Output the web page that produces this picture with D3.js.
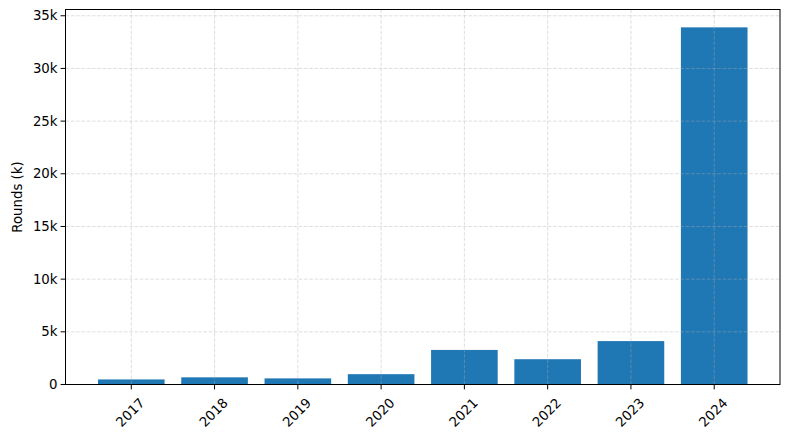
<!DOCTYPE html>
<html><head><meta charset="utf-8">
<script src="https://cdn.jsdelivr.net/npm/d3@7"></script>
<style>body{margin:0;background:#fff}svg{display:block}text{font-family:"DejaVu Sans",sans-serif;fill:#000}</style>
</head><body><svg id="c" width="790" height="439"></svg>
<script>
const years = ["2017","2018","2019","2020","2021","2022","2023","2024"];
const rounds = [480, 680, 580, 980, 3280, 2400, 4120, 33900];
const yTicks = [0, 5000, 10000, 15000, 20000, 25000, 30000, 35000];
const yTickLabels = ["0","5k","10k","15k","20k","25k","30k","35k"];

const svg = d3.select("#c");
const L = 65.5, R = 780, T = 9.5, B = 384.5;
const n = years.length;
const x = d3.scaleLinear().domain([-0.39 - 0.4, n - 1 + 0.4 + 0.39]).range([L, R]);
const yMax = d3.max(rounds) * 1.05;
const y = d3.scaleLinear().domain([0, yMax]).range([B, T]);
const bw = x(0.8) - x(0);

// bars
svg.append("g").selectAll("rect").data(rounds).enter().append("rect")
  .attr("x", (d,i) => x(i) - bw/2).attr("width", bw)
  .attr("y", d => y(d)).attr("height", d => B - y(d))
  .attr("fill", "#1f77b4");

// grid over bars
const g2 = svg.append("g");
const gridStyle = sel => sel.attr("stroke", "#b0b0b0").attr("stroke-opacity", 0.5)
  .attr("stroke-width", 0.8).attr("stroke-dasharray", "3.7,1.6");
g2.selectAll("line.gy").data(yTicks).enter().append("line")
  .attr("x1", L).attr("x2", R).attr("y1", d => y(d)).attr("y2", d => y(d)).call(gridStyle);
g2.selectAll("line.gx").data(years).enter().append("line")
  .attr("x1", (d,i) => x(i)).attr("x2", (d,i) => x(i)).attr("y1", T).attr("y2", B).call(gridStyle);

// frame
svg.append("rect").attr("x", L).attr("y", T).attr("width", R - L).attr("height", B - T)
  .attr("fill", "none").attr("stroke", "#000").attr("stroke-width", 1);

// y ticks
const yt = svg.append("g");
yTicks.forEach((v, i) => {
  yt.append("line").attr("x1", L - 4.9).attr("x2", L).attr("y1", y(v)).attr("y2", y(v)).attr("stroke", "#000");
  yt.append("text").attr("x", L - 8).attr("y", y(v)).attr("dy", "0.35em")
    .attr("text-anchor", "end").attr("font-size", "13.3px").text(yTickLabels[i]);
});
// x ticks
const xt = svg.append("g");
years.forEach((yr, i) => {
  xt.append("line").attr("x1", x(i)).attr("x2", x(i)).attr("y1", B).attr("y2", B + 4.9).attr("stroke", "#000");
  xt.append("text").attr("transform", `translate(${x(i) - 1},${B + 28}) rotate(-45)`)
    .attr("text-anchor", "middle").attr("dy", "0.35em").attr("font-size", "13.3px").text(yr);
});
// y label
svg.append("text").attr("transform", `translate(17,${(T + B) / 2}) rotate(-90)`)
  .attr("text-anchor", "middle").attr("dy", "0.35em").attr("font-size", "13.3px").text("Rounds (k)");
</script></body></html>
